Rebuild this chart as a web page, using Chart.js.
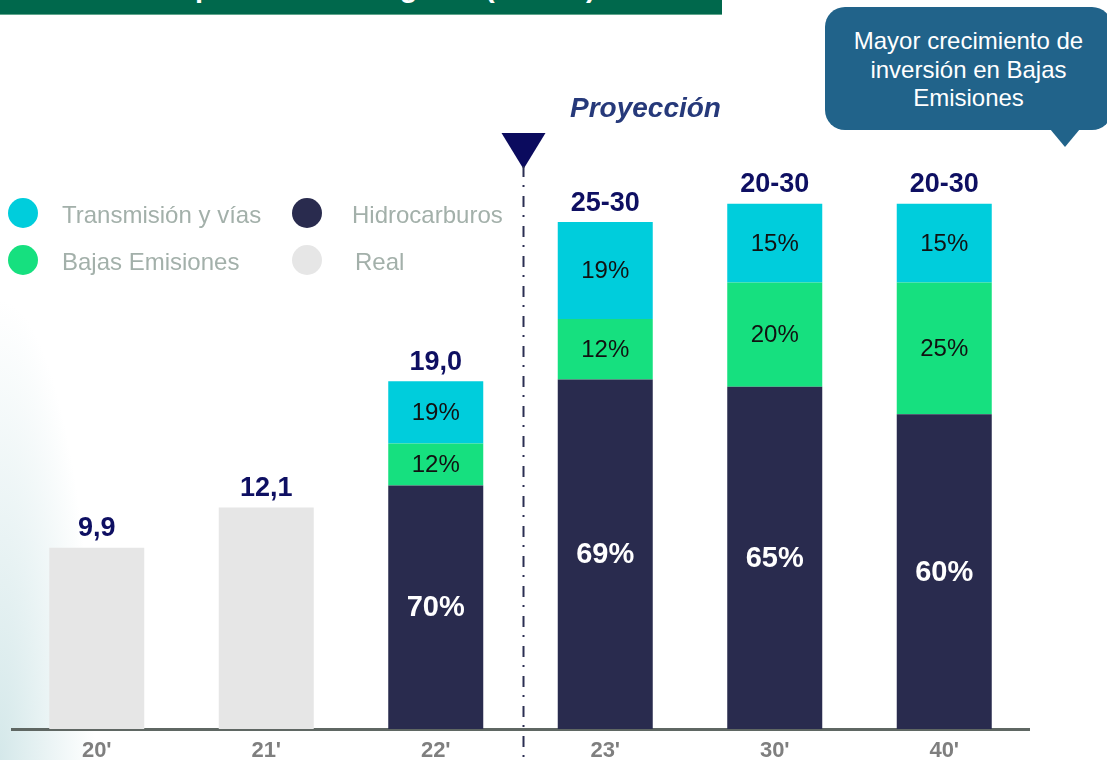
<!DOCTYPE html>
<html lang="es">
<head>
<meta charset="utf-8">
<title>Inversión por línea de negocio</title>
<script src="https://cdn.jsdelivr.net/npm/chart.js@4.4.1/dist/chart.umd.min.js"></script>
<style>
  html, body { margin: 0; padding: 0; background: #ffffff; }
  body { width: 1107px; height: 760px; overflow: hidden; position: relative;
         font-family: "Liberation Sans", Arial, sans-serif; }
  #haze { position: absolute; left: 0; top: 0; width: 140px; height: 760px;
          background: radial-gradient(ellipse 95px 460px at 0% 100%, rgba(205,228,230,0.85), rgba(255,255,255,0) 100%); }
  #chart { position: absolute; left: 0; top: 0; }
  #hdr { position: absolute; left: 0; top: 0; width: 722px; height: 14px; background: #00684c;
         border-bottom: 1px solid #5fa58c; overflow: hidden; }
  #hdr span { position: absolute; left: 58px; top: -27px; line-height: 29px; font-size: 29px;
              font-weight: bold; color: #ffffff; white-space: nowrap; }
  #legend { position: absolute; left: 8px; top: 198px; display: grid;
            grid-template-columns: 284px auto; row-gap: 17px; }
  .item { display: flex; align-items: center; height: 30px; font-size: 24px; color: #a3b0aa; white-space: nowrap; }
  .item span + span { position: relative; top: 2px; }
  .dot { width: 30px; height: 30px; border-radius: 50%; margin-right: 24px; flex: none; }
  .item.c2 .dot { margin-right: 30px; }
  .item.c2.last .dot { margin-right: 33px; }
  #proj { position: absolute; left: 570px; top: 94px; font-size: 28px; line-height: 28px;
          font-weight: bold; font-style: italic; color: #26397a; white-space: nowrap; }
  #callout { position: absolute; left: 825px; top: 7px; width: 287px; height: 123px; box-sizing: border-box;
             padding-top: 20px; background: #21638a; border-radius: 20px; color: #ffffff;
             font-size: 24px; line-height: 28.5px; text-align: center; }
  #tail { position: absolute; left: 1050px; top: 129px; width: 0; height: 0;
          border-left: 15px solid transparent; border-right: 15px solid transparent; border-top: 18px solid #21638a; }
</style>
</head>
<body>
<div id="haze"></div>
<canvas id="chart" width="1107" height="760"></canvas>
<div id="hdr"><span>Inversión por línea de negocio (COP B)</span></div>
<div id="legend"></div>
<div id="proj">Proyección</div>
<div id="callout">Mayor crecimiento de<br>inversión en Bajas<br>Emisiones</div>
<div id="tail"></div>
<script>
// Years on the axis
const categories = ["20'", "21'", "22'", "23'", "30'", "40'"];

// Investment per segment (stacked); projected years use each segment's share of the total
const realValues  = [9.9, 12.1, null, null, null, null];
const hidroValues = [null, null, 13.3, 19.1, 18.7, 17.2];
const bajasValues = [null, null, 2.3, 3.3, 5.7, 7.2];
const transValues = [null, null, 3.4, 5.3, 4.3, 4.3];

// Text written on the bars
const totalLabels = ["9,9", "12,1", "19,0", "25-30", "20-30", "20-30"];
const hidroLabels = [null, null, "70%", "69%", "65%", "60%"];
const bajasLabels = [null, null, "12%", "12%", "20%", "25%"];
const transLabels = [null, null, "19%", "19%", "15%", "15%"];

// Legend entries (2 x 2 grid, row by row)
const legendNames  = ["Transmisión y vías", "Hidrocarburos", "Bajas Emisiones", "Real"];
const legendColors = ["#00cddc", "#292b4e", "#16e07f", "#e6e6e6"];

const COLORS = { real: "#e6e6e6", hidro: "#292b4e", bajas: "#16e07f", trans: "#00cddc" };
const FONT = '"Liberation Sans", Arial, sans-serif';

// HTML legend
const legendEl = document.getElementById('legend');
legendNames.forEach((name, i) => {
  const it = document.createElement('div');
  it.className = 'item' + (i % 2 === 1 ? ' c2' : '') + (i === legendNames.length - 1 ? ' last' : '');
  const dot = document.createElement('span');
  dot.className = 'dot';
  dot.style.background = legendColors[i];
  const txt = document.createElement('span');
  txt.textContent = name;
  it.appendChild(dot);
  it.appendChild(txt);
  legendEl.appendChild(it);
});

// Value labels: percentages inside segments, totals above each column
const valueLabels = {
  id: 'valueLabels',
  afterDatasetsDraw(chart) {
    const ctx = chart.ctx;
    ctx.save();
    ctx.textAlign = 'center';
    ctx.textBaseline = 'middle';
    const specs = [
      { ds: 1, labels: hidroLabels, font: 'bold 29px ' + FONT, color: '#ffffff' },
      { ds: 2, labels: bajasLabels, font: '24px ' + FONT, color: '#111111' },
      { ds: 3, labels: transLabels, font: '24px ' + FONT, color: '#111111' }
    ];
    specs.forEach(s => {
      const meta = chart.getDatasetMeta(s.ds);
      meta.data.forEach((bar, i) => {
        if (!s.labels[i]) return;
        const p = bar.getProps(['x', 'y', 'base'], true);
        ctx.font = s.font;
        ctx.fillStyle = s.color;
        ctx.fillText(s.labels[i], p.x, (p.y + p.base) / 2 + 1);
      });
    });
    ctx.font = 'bold 27px ' + FONT;
    ctx.fillStyle = '#0e0f62';
    categories.forEach((c, i) => {
      let top = Infinity, x = null;
      chart.data.datasets.forEach((d, di) => {
        if (d.data[i] == null) return;
        const bar = chart.getDatasetMeta(di).data[i];
        if (bar.y < top) { top = bar.y; x = bar.x; }
      });
      if (x !== null) ctx.fillText(totalLabels[i], x, top - 19);
    });
    ctx.restore();
  }
};

// Divider between actual and projected years: marker triangle + dash-dot line
const divider = {
  id: 'divider',
  afterDraw(chart) {
    const ctx = chart.ctx;
    const xs = chart.scales.x;
    const xDiv = (xs.getPixelForValue(2) + xs.getPixelForValue(3)) / 2 + 3;
    ctx.save();
    ctx.fillStyle = '#0b0b5e';
    ctx.beginPath();
    ctx.moveTo(xDiv - 22, 133);
    ctx.lineTo(xDiv + 22, 133);
    ctx.lineTo(xDiv, 169);
    ctx.closePath();
    ctx.fill();
    ctx.strokeStyle = '#2b2e52';
    ctx.lineWidth = 2;
    ctx.setLineDash([11, 8, 2, 9]);
    ctx.beginPath();
    ctx.moveTo(xDiv, 166);
    ctx.lineTo(xDiv, 760);
    ctx.stroke();
    ctx.restore();
  }
};

new Chart(document.getElementById('chart'), {
  type: 'bar',
  data: {
    labels: categories,
    datasets: [
      { label: 'Real', data: realValues, backgroundColor: COLORS.real },
      { label: 'Hidrocarburos', data: hidroValues, backgroundColor: COLORS.hidro },
      { label: 'Bajas Emisiones', data: bajasValues, backgroundColor: COLORS.bajas },
      { label: 'Transmisión y vías', data: transValues, backgroundColor: COLORS.trans }
    ]
  },
  options: {
    responsive: false,
    devicePixelRatio: 1,
    animation: false,
    layout: { padding: { left: 12, right: 78, top: 180, bottom: 0 } },
    datasets: { bar: { barPercentage: 0.5605, categoryPercentage: 1, borderWidth: 0, borderSkipped: false } },
    plugins: { legend: { display: false }, tooltip: { enabled: false }, title: { display: false } },
    scales: {
      x: {
        stacked: true,
        grid: { display: false, drawTicks: false },
        border: { display: true, color: '#5f6763', width: 3 },
        ticks: {
          color: '#7f7f7f',
          padding: 9,
          font: { family: FONT, weight: 'bold', size: 22 }
        },
        afterFit(scale) { scale.height = 31; }
      },
      y: { stacked: true, display: false, min: 0, max: 30 }
    }
  },
  plugins: [valueLabels, divider]
});
</script>
</body>
</html>
